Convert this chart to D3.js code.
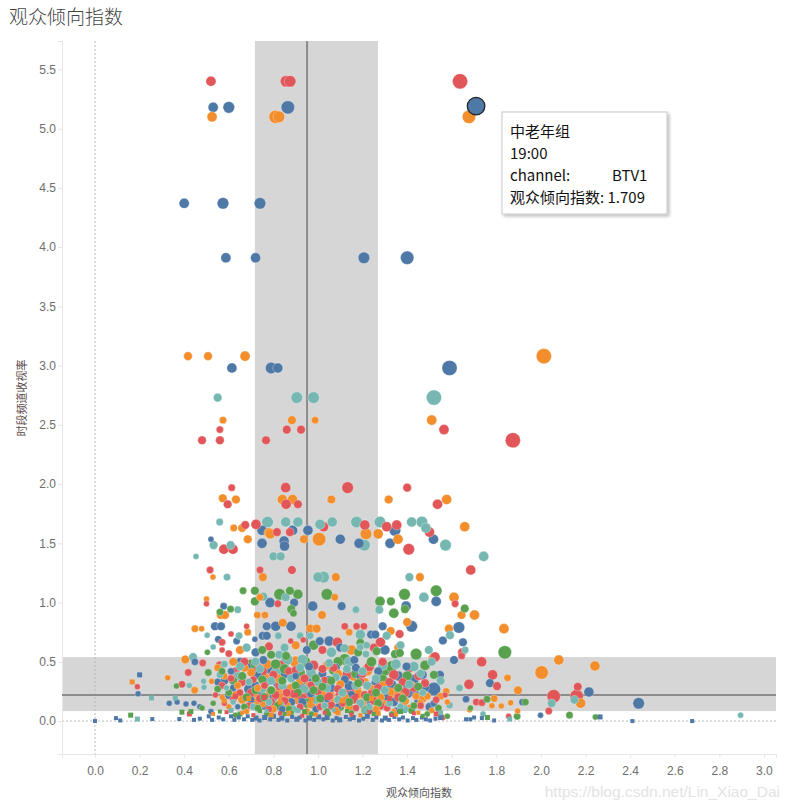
<!DOCTYPE html>
<html>
<head>
<meta charset="utf-8">
<style>
  body { margin: 0; background: #fff; }
  svg text { font-family: "Liberation Sans", Arial, sans-serif; }
</style>
</head>
<body>
<div id="chart"></div>
<script src="https://cdn.jsdelivr.net/npm/d3@7"></script>
<script>
// tick labels
var xTicks = [0, 0.2, 0.4, 0.6, 0.8, 1.0, 1.2, 1.4, 1.6, 1.8, 2.0, 2.2, 2.4, 2.6, 2.8, 3.0];
var yTicks = [0, 0.5, 1.0, 1.5, 2.0, 2.5, 3.0, 3.5, 4.0, 4.5, 5.0, 5.5];

// reference bands / lines (x = 观众倾向指数, y = 时段频道收视率)
var xBand = [0.717, 1.269], xLine = 0.951;
var yBand = [0.084, 0.54], yLine = 0.219;

// series: [观众倾向指数, 时段频道收视率, size]
var blue = [
  [0.53,5.18,3.5],[0.60,5.18,4],[0.865,5.18,4.5],[1.709,5.19,5.5],
  [0.40,4.37,3.5],[0.574,4.37,4],[0.74,4.37,4],
  [0.587,3.91,3.5],[0.72,3.91,3.5],[1.206,3.91,4],[1.40,3.91,4.5],
  [0.614,2.98,3.5],[0.79,2.98,4],[0.82,2.98,3.5],[1.59,2.98,5],
  [0.749,1.61,3.5],[0.886,1.61,3.5],[0.955,1.61,3.5],[1.345,1.61,4],
  [0.52,1.535,2],[0.749,1.50,3.5],[0.848,1.52,3.5],[0.85,1.477,3.5],[1.10,1.535,3.5],[1.184,1.50,3.5],[1.323,1.50,3.5],[1.518,1.535,3.5],
  [0.785,1.00,3.5],[0.893,1.00,3],[1.53,1.01,3.5],[0.976,0.97,3.5],[1.106,0.97,3],[1.395,0.97,3.5],[0.577,0.97,2.5],
  [1.42,0.80,4],[1.632,0.79,4],[1.29,0.80,3],[0.538,0.80,3],[0.565,0.80,3],[0.77,0.80,3],[0.81,0.80,3.5],[0.879,0.80,3.5],
  [1.238,0.73,3],[1.257,0.73,3],[0.752,0.72,3],[0.77,0.72,3],[0.553,0.69,2.5],[0.635,0.675,2.5],[0.717,0.69,2],
  [1.05,0.675,3.5],[1.008,0.675,3],[1.56,0.68,3],[1.65,0.665,3],
  [1.61,0.515,3],[1.547,0.39,3],[1.771,0.32,3],[2.215,0.245,3.5],[2.438,0.15,4],[1.917,0.16,2.5],[1.664,0.185,2.5],
  [1.323,0.30,4.5],[1.36,0.38,3.5],[1.462,0.39,3.5],[1.397,0.46,3],[1.258,0.33,3],[1.52,0.15,2.5],[1.353,0.087,2.5],
  [0.193,0.23,2],[0.20,0.39,1.5],[0.333,0.15,2],[0.368,0.16,2],[0.448,0.50,2.5],[0.408,0.145,2],[0.444,0.15,2],[0.755,0.515,3],[1.163,0.515,3],
  [0.47,0.12,2],[0.52,0.08,2],[0.55,0.33,2.5],[0.58,0.34,3],[0.61,0.42,2.5],[0.62,0.28,2.5],[0.64,0.12,2],[0.66,0.37,3],[0.68,0.46,3],
  [0.70,0.18,2.5],[0.72,0.30,3],[0.74,0.22,4],[0.76,0.13,3],[0.78,0.44,3.5],[0.80,0.20,3],[0.82,0.32,3.5],[0.84,0.10,2.5],
  [0.87,0.27,3],[0.90,0.38,2.5],[0.93,0.16,3],[0.95,0.33,3.5],[0.97,0.23,3],[0.99,0.10,2.5],[1.02,0.40,3],[1.04,0.19,3],
  [1.06,0.28,3],[1.09,0.12,2.5],[1.12,0.35,3],[1.15,0.22,3],[1.17,0.45,3],[1.20,0.14,3],[1.23,0.29,3],[1.25,0.09,2.5],
  [1.30,0.20,3],[1.38,0.13,3],[1.40,0.25,4.5],[1.43,0.35,3.5],[1.45,0.17,3],[1.47,0.39,3],[1.50,0.12,3],[1.52,0.27,4.5],
  [0.60,0.22,3],[0.65,0.50,3],[0.69,0.27,3.5],[0.73,0.39,3],[0.77,0.33,3],[0.81,0.12,3],[0.85,0.40,3.5],[0.88,0.16,3],
  [0.92,0.29,3.5],[0.96,0.46,3],[0.98,0.36,4],[1.01,0.17,3],[1.05,0.34,3.5],[1.08,0.45,3],[1.11,0.20,3],[1.14,0.30,3.5],
  [1.19,0.38,3],[1.22,0.18,3.5],[1.27,0.42,3],[1.34,0.16,3],[1.44,0.22,3],[1.48,0.28,3],[0.95,0.60,3],[1.10,0.62,3],[0.72,0.58,3],[1.30,0.60,3.5],
  [0.00,0.00,1],[0.094,0.025,1],[0.113,0.005,1],[0.257,0.017,1],[0.378,0.017,1],[0.444,0.01,1],[2.41,0.00,1],[2.678,0.00,1],
  [1.998,0.05,2],[2.265,0.035,1.5],[1.70,0.03,1],[1.735,0.025,1],[1.79,0.005,1],[1.664,0.015,1],[1.683,0.015,1],[1.55,0.03,1.5],[1.527,0.02,1],
  [0.47,0.02,1],[0.51,0.04,1],[0.525,0.01,1],[0.555,0.03,1],[0.575,0.015,1],[0.61,0.04,1],[0.625,0.01,1],[0.645,0.03,1],
  [0.668,0.015,1],[0.685,0.04,1],[0.705,0.01,1],[0.722,0.025,1.5],[0.738,0.005,1],[0.761,0.03,1.5],[0.786,0.015,1],[0.80,0.04,1.5],
  [0.823,0.01,1],[0.838,0.025,1.5],[0.862,0.005,1],[0.884,0.035,1],[0.905,0.015,1.5],[0.918,0.03,1],[0.944,0.005,1],[0.962,0.025,1.5],
  [0.983,0.01,1],[1.003,0.035,1.5],[1.024,0.015,1],[1.041,0.03,1.5],[1.066,0.005,1],[1.083,0.025,1],[1.097,0.01,1.5],[1.125,0.035,1],
  [1.143,0.015,1],[1.158,0.03,1.5],[1.184,0.005,1],[1.203,0.02,1],[1.221,0.04,1.5],[1.246,0.01,1],[1.262,0.03,1],[1.287,0.005,1],
  [1.302,0.025,1.5],[1.318,0.01,1],[1.343,0.035,1],[1.364,0.015,1],[1.381,0.03,1],[1.402,0.005,1],[1.426,0.025,1],[1.441,0.01,1],
  [1.466,0.03,1],[1.484,0.015,1],[1.503,0.005,1]
];

var orange = [
  [0.525,5.10,3.5],[0.81,5.10,4.5],[0.825,5.10,4],[1.677,5.10,4.5],
  [0.417,3.08,3],[0.507,3.08,3],[0.673,3.08,3.5],[2.013,3.08,5],
  [0.574,2.54,2.5],[0.883,2.54,3],[0.987,2.54,2.5],[1.51,2.54,3.5],
  [0.573,1.88,3],[0.632,1.87,3],[0.84,1.87,3.5],[0.886,1.87,3.5],[1.06,1.87,3],[1.317,1.87,3],[1.577,1.87,3.5],
  [0.622,1.63,2.5],[0.66,1.63,3],[1.658,1.64,3.5],[0.78,1.59,3.5],[0.786,1.58,3.5],[1.215,1.58,4],[1.27,1.58,3.5],
  [0.685,1.535,3],[0.937,1.535,3],[1.005,1.535,4.5],[1.359,1.535,3.5],
  [0.529,1.215,2],[0.753,1.215,3],[1.08,1.215,3],[1.457,1.215,3],
  [0.74,1.045,2.5],[1.075,1.045,2.5],[1.61,1.045,3.5],[0.50,1.03,2],
  [0.564,0.895,3],[0.583,0.895,3],[0.728,0.895,2.5],[0.762,0.895,2.5],[1.018,0.895,3],[1.644,0.895,3],[1.702,0.895,3.5],
  [1.40,0.835,3],[1.587,0.78,3],[1.326,0.76,3],[0.448,0.78,2.5],[0.478,0.78,2],[0.685,0.75,2.5],[0.842,0.83,3],
  [0.965,0.78,3],[0.994,0.78,3],[1.14,0.75,2.5],[1.834,0.78,3.5],
  [1.517,0.53,3.5],[2.08,0.515,3.5],[2.003,0.41,4.5],[1.85,0.365,2.5],[2.242,0.465,3.5],[1.897,0.26,3],[2.178,0.15,3.5],
  [1.864,0.155,2],[1.822,0.127,2],[1.79,0.19,2.5],[1.78,0.13,2],[1.895,0.085,2],[1.575,0.25,2.5],[1.68,0.095,2],
  [0.167,0.33,1.5],[0.326,0.365,2],[0.405,0.52,3],[0.447,0.26,2.5],[0.523,0.335,2],
  [0.55,0.45,2.5],[0.57,0.20,2],[0.60,0.12,2],[0.62,0.50,3],[0.64,0.30,2.5],[0.66,0.18,3],[0.68,0.08,2],[0.70,0.41,3],
  [0.71,0.22,3.5],[0.73,0.28,2.5],[0.75,0.15,3],[0.77,0.48,3.5],[0.79,0.24,4],[0.80,0.10,2.5],[0.82,0.36,3],[0.84,0.20,3.5],
  [0.86,0.13,3],[0.88,0.28,3],[0.90,0.50,4],[0.91,0.18,3.5],[0.93,0.23,4],[0.95,0.08,2.5],[0.96,0.30,3],[0.98,0.20,3.5],
  [1.00,0.14,3],[1.02,0.24,3],[1.04,0.47,3],[1.06,0.17,3.5],[1.08,0.09,2.5],[1.10,0.31,3],[1.12,0.20,3],[1.14,0.12,3],
  [1.16,0.38,3.5],[1.18,0.23,3.5],[1.20,0.16,3],[1.22,0.43,4],[1.24,0.27,3],[1.26,0.10,2.5],[1.28,0.20,3],[1.30,0.14,3],
  [1.32,0.24,3.5],[1.34,0.08,2],[1.37,0.21,3],[1.39,0.17,3],[1.41,0.11,2.5],[1.44,0.21,2.5],[1.46,0.15,2.5],[1.49,0.21,2.5],
  [1.51,0.09,2],[1.55,0.21,2.5],[1.58,0.16,2],
  [0.58,0.38,2.5],[0.63,0.22,3],[0.67,0.45,3],[0.72,0.16,3],[0.76,0.37,3.5],[0.83,0.25,4],[0.87,0.20,3.5],[0.92,0.34,3],
  [0.97,0.14,3],[1.01,0.30,3.5],[1.05,0.22,4],[1.09,0.40,3],[1.13,0.18,3.5],[1.17,0.26,4],[1.21,0.33,3],[1.25,0.22,3.5],
  [1.29,0.30,3],[1.33,0.17,3.5],[1.36,0.26,4],[1.42,0.30,3],[1.47,0.19,3],[0.65,0.60,3],[0.90,0.64,3],[1.15,0.60,3.5],[1.36,0.62,3],
  [0.53,0.06,1],[0.66,0.07,1],[0.79,0.05,1.5],[0.87,0.065,1.5],[0.99,0.055,1],[1.09,0.07,1.5],[1.19,0.05,1],[1.27,0.065,1.5],
  [1.35,0.055,1],[1.45,0.07,1],[0.58,0.17,1.5],[0.69,0.19,1.5],[0.83,0.16,1.5],[0.97,0.18,1.5],[1.11,0.17,1.5],[1.24,0.19,1.5]
];

var red = [
  [0.52,5.40,3.5],[0.857,5.40,4],[0.875,5.40,4],[1.637,5.40,5],
  [0.56,2.46,2.5],[0.86,2.46,3],[0.924,2.46,3],[1.565,2.46,3.5],
  [0.48,2.37,3],[0.56,2.37,3],[0.767,2.37,3],[1.874,2.37,5],
  [0.613,1.97,2.5],[0.855,1.97,3.5],[1.133,1.97,4],[1.40,1.97,3],
  [0.595,1.83,3],[0.857,1.83,3.5],[0.91,1.83,3],[1.536,1.83,3.5],
  [0.674,1.655,3],[0.722,1.66,3.5],[1.025,1.64,3.5],[1.21,1.655,3.5],[1.308,1.64,3.5],[1.353,1.655,3.5],[1.50,1.595,3.5],
  [0.816,1.595,3],[0.874,1.595,3],
  [0.578,1.45,3.5],[0.619,1.45,3.5],[1.407,1.45,4],
  [0.516,1.275,2.5],[0.74,1.275,2.5],[0.883,1.275,3],[1.685,1.275,3.5],
  [0.82,0.99,2.5],[1.615,0.99,2.5],[0.50,0.99,2],
  [0.68,0.80,2],[1.12,0.80,2.5],[1.173,0.80,2.5],[1.206,0.80,2.5],[1.366,0.735,3],[0.878,0.675,2],[0.934,0.685,2],
  [0.61,0.735,2],[0.57,0.665,2.5],[1.087,0.665,3.5],[1.28,0.665,3.5],[0.57,0.60,2],[1.525,0.54,3.5],[1.644,0.55,2.5],[1.646,0.58,3],
  [1.734,0.50,3.5],[1.783,0.39,3.5],[1.803,0.295,3],[1.677,0.31,3.5],[2.165,0.29,3],[2.057,0.21,4.5],[2.16,0.21,4.5],
  [1.71,0.16,2.5],[1.735,0.155,2.5],[2.035,0.085,2.5],[1.855,0.04,2],[1.56,0.03,2],
  [0.19,0.29,2],[0.39,0.31,2.5],[0.418,0.41,2.5],[0.483,0.49,2.5],[0.423,0.06,1.5],
  [0.54,0.22,2],[0.56,0.47,3],[0.58,0.15,2],[0.61,0.36,2.5],[0.63,0.42,3],[0.65,0.24,2.5],[0.67,0.50,3],[0.69,0.13,2.5],
  [0.71,0.35,2.5],[0.73,0.45,3.5],[0.74,0.19,3],[0.76,0.30,2.5],[0.78,0.10,2.5],[0.80,0.39,3],[0.81,0.22,3],[0.83,0.47,3.5],
  [0.85,0.17,3],[0.87,0.42,3],[0.89,0.23,3],[0.92,0.12,2.5],[0.94,0.36,3],[0.95,0.21,3.5],[0.98,0.47,3.5],[1.00,0.25,3],
  [1.01,0.12,2.5],[1.03,0.34,3],[1.05,0.21,3],[1.07,0.45,3],[1.09,0.27,3],[1.11,0.15,2.5],[1.13,0.39,3.5],[1.14,0.25,4],
  [1.17,0.11,2.5],[1.19,0.33,3],[1.21,0.22,3],[1.23,0.46,3.5],[1.25,0.17,3],[1.27,0.28,3],[1.29,0.50,3],[1.31,0.11,2.5],
  [1.34,0.39,3.5],[1.36,0.20,3],[1.38,0.33,3],[1.41,0.45,3.5],[1.43,0.28,3],[1.46,0.13,2.5],[1.48,0.32,3],[1.53,0.18,2.5],[1.57,0.22,2],
  [0.57,0.30,2.5],[0.62,0.18,2.5],[0.66,0.33,3],[0.70,0.24,3],[0.75,0.42,3.5],[0.79,0.16,3],[0.83,0.30,3.5],[0.86,0.24,3],
  [0.90,0.43,3],[0.93,0.19,3.5],[0.97,0.30,3],[1.02,0.44,3],[1.06,0.13,3],[1.10,0.22,3.5],[1.16,0.18,3],[1.20,0.40,3],
  [1.24,0.23,3],[1.28,0.13,3],[1.32,0.33,3],[1.39,0.24,3.5],[1.45,0.38,3],[0.78,0.63,3],[1.02,0.60,3],[1.25,0.62,3],[0.60,0.57,2.5],
  [0.59,0.075,1],[0.71,0.05,1],[0.83,0.065,1],[0.93,0.045,1],[1.03,0.07,1],[1.15,0.055,1],[1.23,0.075,1],[1.33,0.05,1],
  [1.43,0.065,1],[1.53,0.06,1.5],[0.63,0.21,1.5],[0.76,0.2,1.5],[0.9,0.22,1.5],[1.04,0.2,1.5],[1.17,0.21,1.5],[1.32,0.19,1.5]
];

var teal = [
  [0.55,2.73,3],[0.905,2.73,4],[0.98,2.73,4],[1.52,2.73,5],
  [0.559,1.68,2.5],[0.774,1.68,4],[0.855,1.68,3.5],[0.91,1.68,3.5],[1.009,1.66,3.5],[1.064,1.68,3.5],[1.173,1.68,4],
  [1.278,1.68,4],[1.42,1.68,3.5],[1.466,1.68,4],[1.484,1.63,3.5],
  [0.532,1.485,3],[0.608,1.485,3],[1.208,1.485,4],[1.572,1.485,4],
  [0.453,1.39,2],[1.743,1.39,3.5],[0.80,1.39,3],[0.833,1.39,3],
  [0.592,1.215,2.5],[1.00,1.215,3.5],[1.025,1.215,4],[1.41,1.215,3],
  [0.755,1.05,3],[0.855,1.045,3],[1.475,1.045,3.5],
  [1.17,0.94,2.5],[1.275,0.94,3],[0.64,0.94,2.5],
  [1.19,0.73,3.5],[1.308,0.72,3],[0.822,0.72,2.5],[0.965,0.72,2.5],[0.92,0.72,2.5],[0.646,0.72,2.5],[0.503,0.725,2],[1.592,0.725,3],
  [1.12,0.615,3],[1.19,0.625,2.5],[1.218,0.64,2.5],[1.37,0.64,3],[0.53,0.625,2],[1.497,0.60,3],[1.66,0.60,2.5],[1.215,0.565,2.5],[0.826,0.56,3],
  [1.635,0.28,2.5],[2.15,0.18,3],[2.048,0.15,3],[1.59,0.135,2.5],[1.86,0.017,1.5],[1.74,0.06,2],[2.895,0.05,2],
  [0.19,0.017,1.5],[0.253,0.195,1.5],[0.36,0.195,1.5],[0.44,0.54,3],[0.423,0.30,2],[0.487,0.335,2],[0.489,0.285,2],
  [0.56,0.39,2.5],[0.59,0.28,2],[0.62,0.16,2],[0.65,0.46,3],[0.69,0.33,2.5],[0.72,0.50,3],[0.75,0.27,3],[0.78,0.16,2.5],
  [0.81,0.41,3.5],[0.84,0.30,3],[0.86,0.52,4],[0.89,0.10,2.5],[0.92,0.45,3],[0.94,0.27,3],[0.97,0.40,3.5],[1.00,0.33,3],
  [1.03,0.13,2.5],[1.05,0.49,3],[1.08,0.37,3],[1.11,0.24,3],[1.14,0.50,3.5],[1.17,0.30,3],[1.20,0.42,3],[1.23,0.12,2.5],
  [1.26,0.36,3],[1.29,0.47,3.5],[1.32,0.15,2.5],[1.35,0.48,3.5],[1.39,0.10,2.5],[1.43,0.46,3.5],[1.47,0.24,2.5],[1.51,0.50,3],[1.55,0.34,3],
  [0.58,0.48,2.5],[0.64,0.38,3],[0.71,0.12,2.5],[0.74,0.44,3],[0.79,0.34,3],[0.83,0.14,3],[0.88,0.36,3],[0.93,0.52,3.5],
  [0.99,0.18,3],[1.04,0.28,3],[1.09,0.18,3],[1.13,0.44,3],[1.19,0.15,3],[1.22,0.30,3],[1.30,0.26,3],[1.37,0.12,2.5],
  [1.41,0.31,3],[1.46,0.40,3],[0.85,0.62,3],[1.06,0.58,3.5],[0.68,0.62,3],
  [0.61,0.09,1.5],[0.77,0.085,1],[0.91,0.09,1.5],[1.07,0.095,1],[1.21,0.09,1.5],[1.39,0.085,1],[1.55,0.07,1.5]
];

var green = [
  [0.664,1.10,2.5],[0.717,1.10,3],[0.874,1.10,3],[0.828,1.07,4],[0.91,1.07,3.5],[1.04,1.07,4],[1.388,1.07,4],[1.53,1.10,4],
  [0.717,1.01,3],[1.278,1.01,3.5],[1.327,1.01,3],[1.658,0.95,3],[0.88,0.945,3],[0.89,0.91,2.5],[0.608,0.945,2.5],[0.56,0.92,2.5],
  [1.34,0.91,3.5],[1.39,0.945,3],
  [0.504,0.58,2],[1.345,0.565,3],[1.367,0.575,3],[1.44,0.565,4],[1.263,0.59,3],[1.18,0.58,3],[0.79,0.56,3],[0.857,0.55,3],[1.838,0.58,4.5],
  [1.93,0.16,2.5],[1.758,0.185,2.5],[1.893,0.04,2.5],[2.128,0.05,2.5],[2.244,0.035,2],[1.684,0.11,2],[1.76,0.03,1.5],[1.58,0.04,2],
  [0.16,0.05,1.5],[0.365,0.295,2],[0.508,0.41,2.5],[0.39,0.075,1.5],[0.43,0.08,1.5],[0.48,0.11,2],
  [0.53,0.15,2],[0.57,0.42,2.5],[0.60,0.24,2.5],[0.63,0.05,2],[0.66,0.38,3],[0.68,0.20,3],[0.70,0.48,3.5],[0.73,0.11,2.5],
  [0.75,0.35,3],[0.77,0.06,2],[0.79,0.26,3],[0.82,0.13,3],[0.85,0.44,3.5],[0.88,0.07,2],[0.90,0.30,3],[0.92,0.41,3.5],
  [0.95,0.15,3.5],[0.97,0.06,2],[0.99,0.36,3],[1.01,0.19,3],[1.04,0.08,2.5],[1.07,0.43,3.5],[1.10,0.12,3],[1.12,0.52,4],
  [1.15,0.07,2],[1.18,0.32,3],[1.21,0.09,2.5],[1.24,0.50,3.5],[1.27,0.15,3],[1.30,0.43,4],[1.33,0.06,2],[1.36,0.28,3],
  [1.40,0.38,3.5],[1.42,0.09,2.5],[1.45,0.29,3],[1.49,0.06,2],[1.52,0.39,3],[1.54,0.11,2.5],
  [0.55,0.27,2.5],[0.62,0.34,3],[0.67,0.12,2.5],[0.72,0.26,3],[0.76,0.20,3],[0.81,0.48,3.5],[0.84,0.34,3],[0.87,0.10,2.5],
  [0.91,0.24,3],[0.94,0.50,4],[0.98,0.26,3],[1.02,0.29,3],[1.06,0.34,3],[1.09,0.50,3.5],[1.14,0.16,3],[1.17,0.40,3.5],
  [1.22,0.20,3],[1.26,0.24,3],[1.29,0.35,3.5],[1.33,0.46,4],[1.38,0.19,3],[1.43,0.13,2.5],[1.48,0.47,3.5],[0.75,0.60,3],[0.98,0.64,3.5],[1.19,0.66,3],
  [0.56,0.08,1],[0.65,0.06,1.5],[0.74,0.085,1],[0.85,0.06,1],[0.94,0.08,1.5],[1.05,0.06,1],[1.13,0.085,1],[1.25,0.06,1],
  [1.37,0.08,1.5],[1.47,0.045,1]
];

var seriesColor = { blue: "#4e79a7", orange: "#f28e2b", red: "#e15759", teal: "#76b7b2", green: "#59a14f" };
var tip = { group: "中老年组", time: "19:00", channel: "BTV1", x: 1.709, y: 5.19 };

var W = 790, H = 809;
var svg = d3.select("#chart").append("svg").attr("width", W).attr("height", H);

var x = d3.scaleLinear().domain([-0.148, 3.054]).range([62, 776]);
var y = d3.scaleLinear().domain([-0.278, 5.74]).range([754, 41]);
var r = d3.scaleLinear().domain([1, 2, 3, 4, 5, 5.5]).range([2, 3, 4.3, 5.8, 7.6, 8.8]);

// title
svg.append("text").attr("x", 9).attr("y", 24)
  .style("font-family", "'Noto Sans CJK SC', sans-serif").style("font-size", "19px").style("font-weight", 300)
  .attr("fill", "#444").text("观众倾向指数");

// bands
svg.append("rect").attr("x", 62).attr("width", 714)
  .attr("y", y(yBand[1])).attr("height", y(yBand[0]) - y(yBand[1])).attr("fill", "#d6d6d6");
svg.append("rect").attr("x", x(xBand[0])).attr("width", x(xBand[1]) - x(xBand[0]))
  .attr("y", 41).attr("height", 713).attr("fill", "#d6d6d6");

// zero lines
svg.append("line").attr("x1", x(0)).attr("x2", x(0)).attr("y1", 41).attr("y2", 754)
  .attr("stroke", "#bbb").attr("stroke-dasharray", "2,2");
svg.append("line").attr("x1", 62).attr("x2", 776).attr("y1", y(0)).attr("y2", y(0))
  .attr("stroke", "#bbb").attr("stroke-dasharray", "2,2");

// axes
var gx = svg.append("g").attr("transform", "translate(0,754)")
  .call(d3.axisBottom(x).tickValues(xTicks).tickFormat(d3.format(".1f")).tickSize(4).tickPadding(8));
var gy = svg.append("g").attr("transform", "translate(62,0)")
  .call(d3.axisLeft(y).tickValues(yTicks).tickFormat(d3.format(".1f")).tickSize(4).tickPadding(2));
[gx, gy].forEach(function (g) {
  g.select(".domain").attr("stroke", "#e6e6e6");
  g.selectAll(".tick line").attr("stroke", "#e6e6e6");
  g.selectAll(".tick text").attr("fill", "#6e6e6e").style("font-size", "12px")
    .style("font-family", "'Liberation Sans', Arial, sans-serif");
});

// reference lines
svg.append("line").attr("x1", x(xLine)).attr("x2", x(xLine)).attr("y1", 41).attr("y2", 754)
  .attr("stroke", "#8c8c8c").attr("stroke-width", 2);
svg.append("line").attr("x1", 62).attr("x2", 776).attr("y1", y(yLine)).attr("y2", y(yLine))
  .attr("stroke", "#8c8c8c").attr("stroke-width", 2);

// marks
var points = [];
var seriesData = { blue: blue, orange: orange, red: red, teal: teal, green: green };
Object.keys(seriesColor).forEach(function (k) {
  seriesData[k].forEach(function (d) { points.push({ x: d[0], y: d[1], s: d[2], c: seriesColor[k] }); });
});
points.sort(function (a, b) { return b.s - a.s; });

var marks = svg.append("g");
marks.selectAll("circle").data(points.filter(function (d) { return d.s >= 2; }))
  .enter().append("circle")
  .attr("cx", function (d) { return x(d.x); })
  .attr("cy", function (d) { return y(d.y); })
  .attr("r", function (d) { return r(d.s); })
  .attr("fill", function (d) { return d.c; })
  .attr("stroke", "#fff").attr("stroke-opacity", 0.5).attr("stroke-width", 0.6);
marks.selectAll("rect").data(points.filter(function (d) { return d.s < 2; }))
  .enter().append("rect")
  .attr("x", function (d) { return x(d.x) - r(d.s); })
  .attr("y", function (d) { return y(d.y) - r(d.s); })
  .attr("width", function (d) { return 2 * r(d.s); })
  .attr("height", function (d) { return 2 * r(d.s); })
  .attr("fill", function (d) { return d.c; });

// highlighted mark
svg.append("circle").attr("cx", x(tip.x)).attr("cy", y(tip.y)).attr("r", r(5.5))
  .attr("fill", seriesColor.blue).attr("stroke", "#222").attr("stroke-width", 1.2);

// axis titles
svg.append("text").attr("x", 419).attr("y", 797).attr("text-anchor", "middle")
  .style("font-family", "'Noto Sans CJK SC', sans-serif").style("font-size", "11px")
  .attr("fill", "#555").text("观众倾向指数");
svg.append("text").attr("transform", "translate(26,398) rotate(-90)").attr("text-anchor", "middle")
  .style("font-family", "'Noto Sans CJK SC', sans-serif").style("font-size", "11px")
  .attr("fill", "#5a4a4a").text("时段频道收视率");

// watermark
svg.append("text").attr("x", 780).attr("y", 797).attr("text-anchor", "end")
  .style("font-size", "15.5px").attr("fill", "#e3e3e3").text("https://blog.csdn.net/Lin_Xiao_Dai");

// tooltip
var defs = svg.append("defs");
var f = defs.append("filter").attr("id", "sh").attr("x", "-10%").attr("y", "-10%").attr("width", "130%").attr("height", "130%");
f.append("feDropShadow").attr("dx", 2).attr("dy", 2).attr("stdDeviation", 1.5).attr("flood-color", "#000").attr("flood-opacity", 0.25);
var tg = svg.append("g").attr("transform", "translate(502,112)");
tg.append("rect").attr("width", 165).attr("height", 102).attr("fill", "#fff")
  .attr("stroke", "#c8c8c8").attr("filter", "url(#sh)");
var tf = "'Noto Sans CJK SC', sans-serif";
tg.append("text").attr("x", 8).attr("y", 25).style("font-family", tf).style("font-size", "15px").attr("fill", "#111").text(tip.group);
tg.append("text").attr("x", 8).attr("y", 47).style("font-family", tf).style("font-size", "15px").attr("fill", "#111").text(tip.time);
tg.append("text").attr("x", 8).attr("y", 69).style("font-family", tf).style("font-size", "15px").attr("fill", "#111").text("channel:");
tg.append("text").attr("x", 110).attr("y", 69).style("font-family", tf).style("font-size", "15px").attr("fill", "#111").text(tip.channel);
tg.append("text").attr("x", 8).attr("y", 91).style("font-family", tf).style("font-size", "15px").attr("fill", "#111")
  .text("观众倾向指数: " + d3.format(".3f")(tip.x));
</script>
</body>
</html>
